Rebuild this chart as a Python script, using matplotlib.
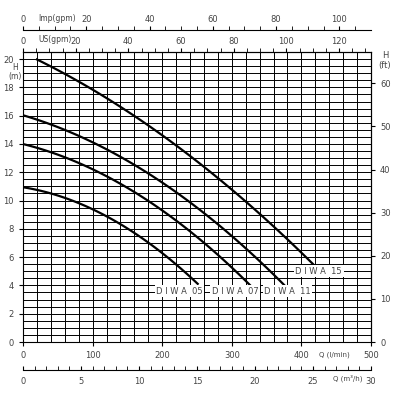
import matplotlib
matplotlib.use("Agg")
import matplotlib.pyplot as plt
import numpy as np

names = ["DIWA 05", "DIWA 07", "DIWA 11", "DIWA 15"]
q05 = [0, 50, 100, 150, 200, 251]; h05 = [11.0, 10.3, 9.3, 8.0, 6.5, 4.0]
q07 = [0, 100, 200, 300, 326]; h07 = [14.0, 12.2, 9.3, 5.3, 4.0]
q11 = [0, 100, 200, 300, 376]; h11 = [16.0, 14.2, 11.2, 7.5, 4.0]
q15 = [20, 100, 200, 300, 380, 420]; h15 = [20.0, 17.8, 14.6, 10.8, 7.3, 5.3]
series = [(q05, h05), (q07, h07), (q11, h11), (q15, h15)]
label_pos = [(225, 3.6), (305, 3.6), (380, 3.6), (425, 5.0)]

fs = 6
col = "#444444"
fig = plt.figure(figsize=(4, 4), dpi=100)
ax = fig.add_axes([23/400, 58/400, 348/400, 290/400])
ax.set_xlim(0, 500); ax.set_ylim(0, 20)
ax.set_xticks(np.arange(0, 501, 20), minor=True)
ax.set_xticks(np.arange(0, 501, 100))
ax.set_yticks(np.arange(0, 21, 0.5), minor=True)
ax.set_yticks(np.arange(0, 21, 2))
ax.grid(True, which="both", color="black", lw=0.7)
ax.tick_params(labelsize=fs, labelcolor=col, length=3, which="both")
ax.tick_params(which="minor", length=0)
for q, h in series:
    qs = np.linspace(q[0], q[-1], 100)
    coef = np.polyfit(q, h, 2)
    ax.plot(qs, np.polyval(coef, qs), color="black", lw=1.6)
for n, (x, y) in zip(names, label_pos):
    ax.text(x, y, " ".join(n.split(" ")[0]) + "  " + n.split(" ")[1], fontsize=fs, color=col,
            ha="center", va="center", bbox=dict(fc="white", ec="none", pad=1))

ax.text(-11, 19.7, "H\n(m)", fontsize=5.5, color=col, ha="center", va="top", linespacing=1.0)
ax.text(520, 20.6, "H\n(ft)", fontsize=fs, color=col, ha="center", va="top")
ax.text(447, -0.9, "Q (l/min)", fontsize=5, color=col, ha="center", va="center")

ft = ax.secondary_yaxis("right", functions=(lambda m: m * 3.2808, lambda f: f / 3.2808))
ft.set_yticks(np.arange(0, 61, 10))
ft.tick_params(labelsize=fs, labelcolor=col, length=3)

us = ax.secondary_xaxis("top", functions=(lambda l: l / 3.785, lambda g: g * 3.785))
us.set_xticks(np.arange(0, 121, 20))
us.set_xticks(np.arange(0, 133, 5), minor=True)
us.tick_params(labelsize=fs, labelcolor=col, length=3, pad=1)
us.tick_params(which="minor", length=3)

imp = ax.secondary_xaxis(1 + 22/290, functions=(lambda l: l / 4.546, lambda g: g * 4.546))
imp.set_xticks(np.arange(0, 101, 20))
imp.set_xticks(np.arange(0, 111, 5), minor=True)
imp.tick_params(labelsize=fs, labelcolor=col, length=3, pad=1)
imp.tick_params(which="minor", length=3)

m3 = ax.secondary_xaxis(-28/290, functions=(lambda l: l * 0.06, lambda m: m / 0.06))
m3.set_xticks(np.arange(0, 31, 5))
m3.set_xticks(np.arange(0, 31, 1), minor=True)
m3.tick_params(labelsize=fs, labelcolor=col, length=3, direction="in", pad=5)
m3.tick_params(which="minor", length=3, direction="in")
ax.text(467, -2.55, "Q (m³/h)", fontsize=5, color=col, ha="center", va="center")

ax.text(22, 21.35, "US(gpm)", fontsize=5.5, color=col, va="center")
ax.text(22, 22.85, "Imp(gpm)", fontsize=5.5, color=col, va="center")

fig.savefig("out.png", dpi=100)
